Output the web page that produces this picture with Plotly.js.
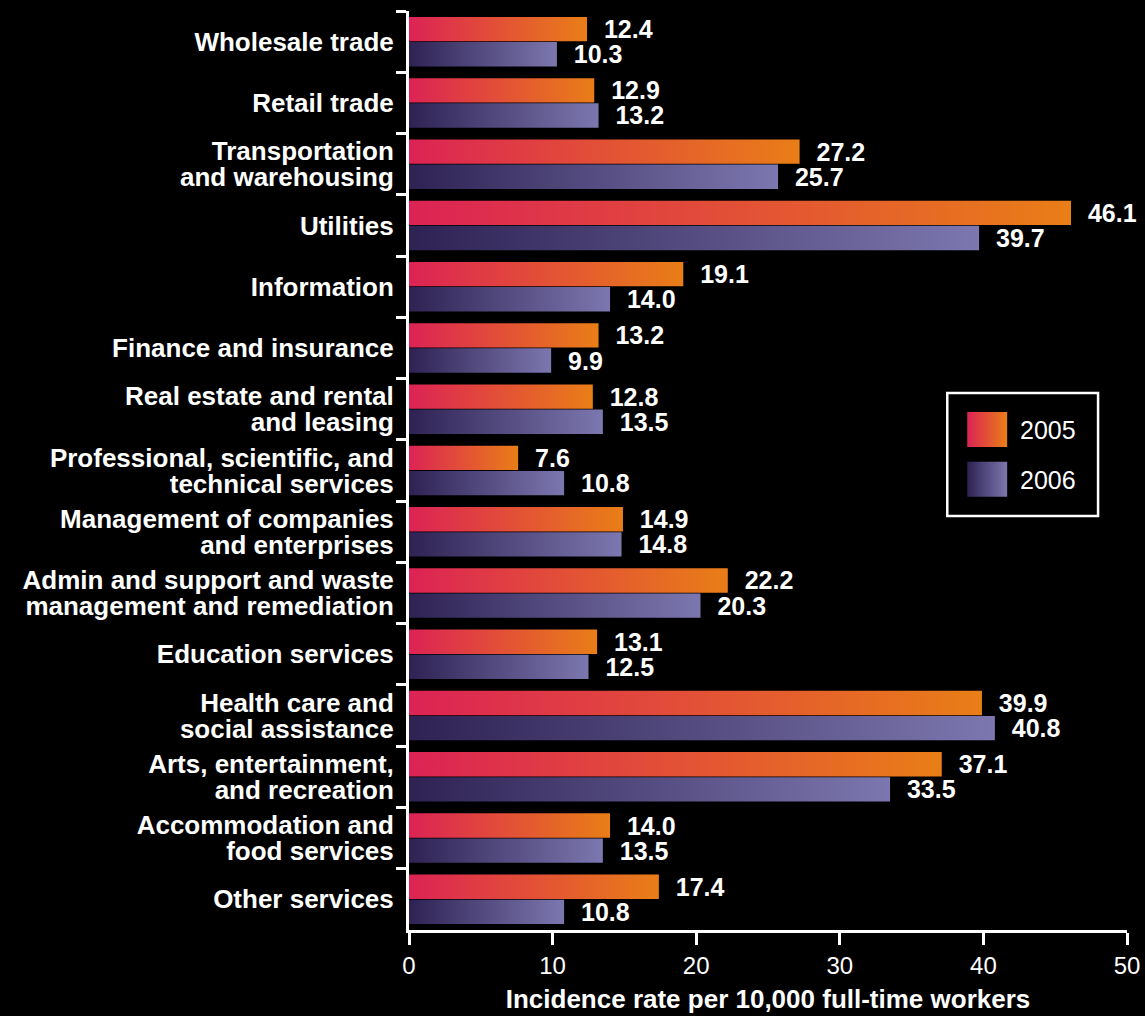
<!DOCTYPE html>
<html>
<head>
<meta charset="utf-8">
<script src="https://cdn.plot.ly/plotly-3.0.1.min.js"></script>
<style>
  html, body { margin: 0; padding: 0; background: #000; }
  #chart { width: 1145px; height: 1016px; }
</style>
</head>
<body>
<svg width="0" height="0" style="position:absolute">
  <defs>
    <linearGradient id="grad2005" x1="0" y1="0" x2="1" y2="0">
      <stop offset="0" stop-color="#DC2355"/>
      <stop offset="1" stop-color="#E97E17"/>
    </linearGradient>
    <linearGradient id="grad2006" x1="0" y1="0" x2="1" y2="0">
      <stop offset="0" stop-color="#2E2253"/>
      <stop offset="1" stop-color="#7C77AF"/>
    </linearGradient>
  </defs>
</svg>
<div id="chart"></div>
<script>
const categories = [
  "Wholesale trade",
  "Retail trade",
  "Transportation<br>and warehousing",
  "Utilities",
  "Information",
  "Finance and insurance",
  "Real estate and rental<br>and leasing",
  "Professional, scientific, and<br>technical services",
  "Management of companies<br>and enterprises",
  "Admin and support and waste<br>management and remediation",
  "Education services",
  "Health care and<br>social assistance",
  "Arts, entertainment,<br>and recreation",
  "Accommodation and<br>food services",
  "Other services"
];
const values2005 = [12.4, 12.9, 27.2, 46.1, 19.1, 13.2, 12.8, 7.6, 14.9, 22.2, 13.1, 39.9, 37.1, 14.0, 17.4];
const values2006 = [10.3, 13.2, 25.7, 39.7, 14.0, 9.9, 13.5, 10.8, 14.8, 20.3, 12.5, 40.8, 33.5, 13.5, 10.8];
const seriesNames = ["2005", "2006"];
const xTickVals = [0, 10, 20, 30, 40, 50];

const FILL2005 = "#E25036";
const FILL2006 = "#544A80";
const FONT = "Liberation Sans, Arial, sans-serif";
const PAD = "\u00A0\u00A0";

const common = {
  type: "bar",
  orientation: "h",
  y: categories,
  textposition: "outside",
  texttemplate: PAD + "%{x:.1f}",
  textangle: 0,
  constraintext: "none",
  cliponaxis: false,
  textfont: { family: FONT, size: 25, color: "#ffffff", weight: 700 },
  hoverinfo: "x+y"
};

const traces = [
  Object.assign({}, common, { x: values2005, name: seriesNames[0], marker: { color: FILL2005, line: { width: 0 } } }),
  Object.assign({}, common, { x: values2006, name: seriesNames[1], marker: { color: FILL2006, line: { width: 0 } } })
];

const layout = {
  width: 1145,
  height: 1016,
  paper_bgcolor: "#000000",
  plot_bgcolor: "#000000",
  margin: { l: 409, r: 18, t: 11, b: 86, pad: 0 },
  barmode: "group",
  bargap: 0.18,
  bargroupgap: 0.03,
  showlegend: false,
  font: { family: FONT, color: "#ffffff" },
  xaxis: {
    range: [0, 50],
    tickvals: xTickVals,
    ticks: "outside",
    ticklen: 12,
    tickwidth: 3,
    tickcolor: "#ffffff",
    showline: true,
    linewidth: 3,
    linecolor: "#ffffff",
    showgrid: false,
    zeroline: false,
    tickfont: { family: FONT, size: 24, color: "#ffffff" },
    title: { text: "Incidence rate per 10,000 full-time workers", font: { family: FONT, size: 26, color: "#ffffff", weight: 700 }, standoff: 13 }
  },
  yaxis: {
    type: "category",
    autorange: "reversed",
    ticks: "outside",
    tickson: "boundaries",
    ticklen: 10,
    tickwidth: 3,
    tickcolor: "#ffffff",
    ticklabelstandoff: 7,
    showline: true,
    linewidth: 3,
    linecolor: "#ffffff",
    showgrid: false,
    zeroline: false,
    tickfont: { family: FONT, size: 26, color: "#ffffff", weight: 700 }
  },
  shapes: [
    { type: "rect", xref: "paper", yref: "paper", x0: 0.7497, x1: 0.9597, y0: 0.4505, y1: 0.5843, line: { color: "#ffffff", width: 2.5 }, fillcolor: "#000000" },
    { type: "rect", xref: "paper", yref: "paper", x0: 0.7775, x1: 0.8331, y0: 0.5256, y1: 0.5637, line: { width: 0 }, fillcolor: FILL2005 },
    { type: "rect", xref: "paper", yref: "paper", x0: 0.7775, x1: 0.8331, y0: 0.4715, y1: 0.5096, line: { width: 0 }, fillcolor: FILL2006 }
  ],
  annotations: [
    { xref: "paper", yref: "paper", x: 0.8485, y: 0.5437, xanchor: "left", yanchor: "middle", text: seriesNames[0], showarrow: false, font: { family: FONT, size: 25, color: "#ffffff" } },
    { xref: "paper", yref: "paper", x: 0.8485, y: 0.4893, xanchor: "left", yanchor: "middle", text: seriesNames[1], showarrow: false, font: { family: FONT, size: 25, color: "#ffffff" } }
  ]
};

function toRgb(hex) {
  const n = parseInt(hex.slice(1), 16);
  return "rgb(" + ((n >> 16) & 255) + ", " + ((n >> 8) & 255) + ", " + (n & 255) + ")";
}

function postProcess() {
  const r05 = toRgb(FILL2005), r06 = toRgb(FILL2006);
  document.querySelectorAll("#chart path").forEach(p => {
    const f = p.style.fill;
    if (f === r05) p.style.fill = "url(#grad2005)";
    else if (f === r06) p.style.fill = "url(#grad2006)";
  });
  // tighten multi-line y tick labels to match the reference's line spacing
  document.querySelectorAll("#chart .ytick text").forEach(t => {
    const lines = t.querySelectorAll("tspan.line");
    if (lines.length < 2) return;
    const b0 = t.getBBox();
    const c0 = b0.y + b0.height / 2;
    lines.forEach((ln, i) => { if (i > 0) ln.setAttribute("dy", "1.0em"); });
    const b1 = t.getBBox();
    const c1 = b1.y + b1.height / 2;
    const tr = t.getAttribute("transform") || "";
    t.setAttribute("transform", tr + " translate(0," + (c0 - c1) + ")");
  });
}

Plotly.newPlot("chart", traces, layout, { displayModeBar: false, staticPlot: true }).then(postProcess);
</script>
</body>
</html>
